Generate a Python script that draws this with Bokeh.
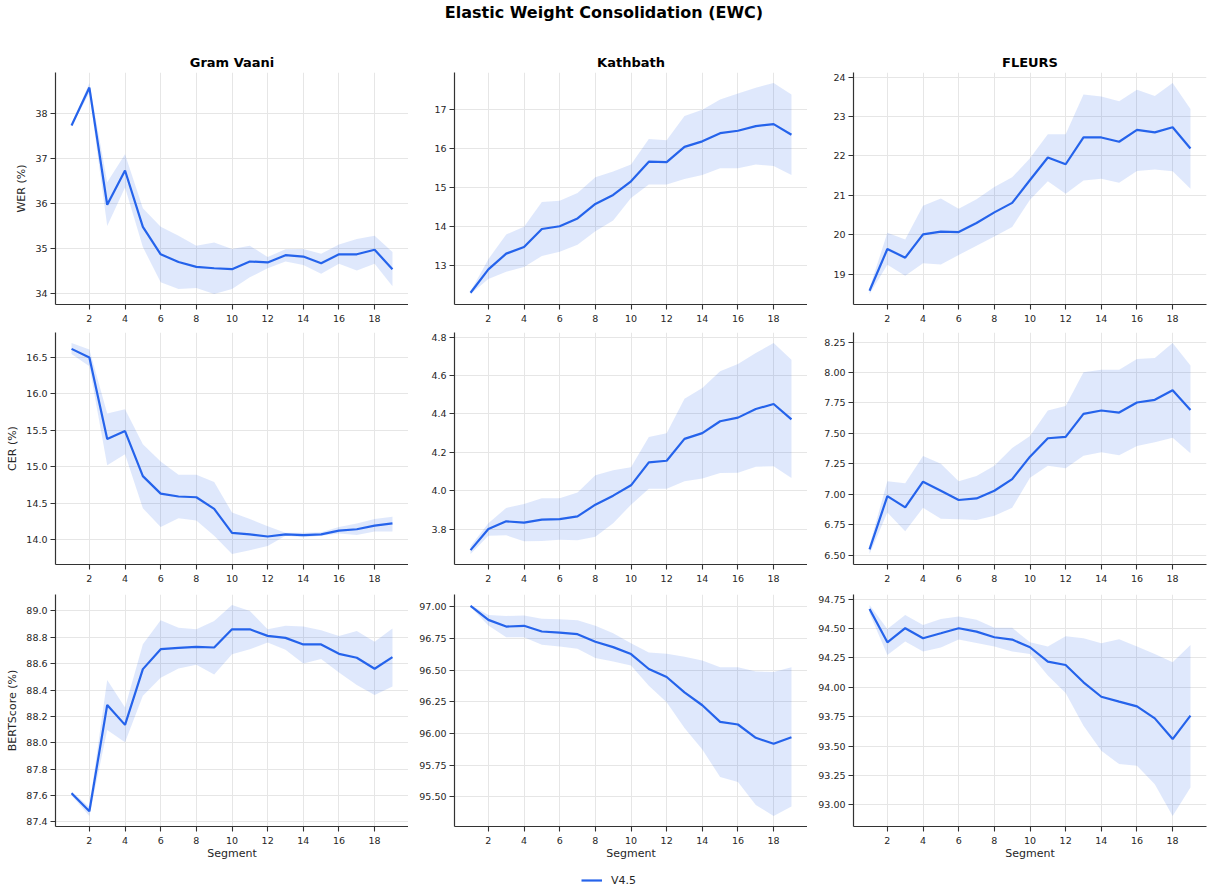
from bokeh.plotting import figure
from bokeh.layouts import column, row
from bokeh.models import FixedTicker, PrintfTickFormatter, Legend, LegendItem, ColumnDataSource
from bokeh.embed import file_html
from bokeh.resources import INLINE

# ---------------- data ----------------
segments = list(range(1, 20))
x_ticks = [2, 4, 6, 8, 10, 12, 14, 16, 18]

datasets = ["Gram Vaani", "Kathbath", "FLEURS"]
metrics = ["WER (%)", "CER (%)", "BERTScore (%)"]
series_name = "V4.5"

# Gram Vaani
gv_wer_mean = [37.74, 38.58, 35.98, 36.74, 35.49, 34.88, 34.71, 34.60, 34.57, 34.55, 34.72, 34.70, 34.86, 34.83, 34.68, 34.88, 34.88, 34.98, 34.55]
gv_wer_hi = [37.76, 38.68, 36.48, 37.10, 35.90, 35.49, 35.29, 35.07, 35.14, 35.00, 35.07, 34.82, 34.99, 35.00, 34.89, 35.10, 35.22, 35.29, 34.93]
gv_wer_lo = [37.72, 38.46, 35.51, 36.36, 35.04, 34.26, 34.11, 34.13, 34.00, 34.11, 34.37, 34.57, 34.72, 34.64, 34.45, 34.67, 34.52, 34.67, 34.17]

gv_cer_mean = [16.62, 16.50, 15.38, 15.49, 14.87, 14.63, 14.59, 14.58, 14.42, 14.09, 14.07, 14.04, 14.07, 14.06, 14.07, 14.12, 14.14, 14.19, 14.22]
gv_cer_hi = [16.70, 16.61, 15.73, 15.79, 15.31, 15.07, 14.89, 14.89, 14.79, 14.37, 14.28, 14.18, 14.09, 14.09, 14.10, 14.17, 14.22, 14.28, 14.31]
gv_cer_lo = [16.55, 16.38, 15.02, 15.17, 14.43, 14.17, 14.29, 14.26, 14.05, 13.80, 13.85, 13.91, 14.05, 14.03, 14.05, 14.08, 14.06, 14.11, 14.11]

gv_bert_mean = [87.617, 87.481, 88.287, 88.136, 88.559, 88.710, 88.720, 88.728, 88.723, 88.861, 88.861, 88.811, 88.796, 88.746, 88.746, 88.675, 88.645, 88.562, 88.650]
gv_bert_hi = [87.630, 87.513, 88.476, 88.267, 88.748, 88.930, 88.872, 88.861, 88.924, 89.045, 89.000, 88.861, 88.887, 88.882, 88.854, 88.811, 88.849, 88.766, 88.867]
gv_bert_lo = [87.600, 87.445, 88.098, 88.005, 88.357, 88.493, 88.564, 88.592, 88.519, 88.672, 88.710, 88.761, 88.705, 88.602, 88.635, 88.534, 88.438, 88.362, 88.428]

# Kathbath
kb_wer_mean = [12.31, 12.91, 13.31, 13.48, 13.94, 14.01, 14.21, 14.58, 14.81, 15.16, 15.66, 15.65, 16.04, 16.18, 16.39, 16.45, 16.57, 16.62, 16.35]
kb_wer_hi = [12.35, 13.17, 13.80, 14.00, 14.63, 14.66, 14.86, 15.26, 15.41, 15.59, 16.24, 16.21, 16.83, 16.99, 17.25, 17.40, 17.55, 17.67, 17.38]
kb_wer_lo = [12.28, 12.66, 12.85, 12.97, 13.25, 13.36, 13.54, 13.88, 14.16, 14.73, 15.08, 15.08, 15.22, 15.32, 15.49, 15.49, 15.59, 15.55, 15.32]

kb_cer_mean = [3.690, 3.800, 3.840, 3.833, 3.849, 3.852, 3.866, 3.927, 3.974, 4.028, 4.148, 4.156, 4.270, 4.300, 4.362, 4.381, 4.426, 4.452, 4.372]
kb_cer_hi = [3.710, 3.830, 3.910, 3.930, 3.960, 3.960, 3.990, 4.080, 4.106, 4.122, 4.280, 4.300, 4.480, 4.536, 4.623, 4.661, 4.718, 4.770, 4.683]
kb_cer_lo = [3.670, 3.765, 3.767, 3.736, 3.737, 3.744, 3.741, 3.760, 3.830, 3.927, 4.010, 4.010, 4.049, 4.063, 4.092, 4.094, 4.125, 4.127, 4.066]

kb_bert_mean = [97.008, 96.898, 96.845, 96.851, 96.806, 96.798, 96.785, 96.725, 96.683, 96.628, 96.510, 96.447, 96.326, 96.224, 96.093, 96.072, 95.967, 95.920, 95.972]
kb_bert_hi = [97.015, 96.937, 96.929, 96.932, 96.906, 96.903, 96.895, 96.851, 96.793, 96.714, 96.641, 96.630, 96.607, 96.578, 96.523, 96.523, 96.491, 96.486, 96.523]
kb_bert_lo = [97.000, 96.853, 96.761, 96.761, 96.701, 96.688, 96.670, 96.596, 96.570, 96.538, 96.378, 96.247, 96.045, 95.875, 95.657, 95.618, 95.437, 95.350, 95.424]

# FLEURS
fl_wer_mean = [18.58, 19.64, 19.42, 20.01, 20.08, 20.07, 20.30, 20.57, 20.81, 21.39, 21.96, 21.79, 22.47, 22.47, 22.36, 22.66, 22.60, 22.73, 22.19]
fl_wer_hi = [18.65, 20.05, 19.88, 20.74, 20.92, 20.66, 20.90, 21.21, 21.46, 21.94, 22.55, 22.55, 23.56, 23.51, 23.39, 23.68, 23.52, 23.85, 23.19]
fl_wer_lo = [18.50, 19.24, 18.96, 19.28, 19.25, 19.49, 19.72, 19.96, 20.20, 20.89, 21.36, 21.04, 21.38, 21.42, 21.32, 21.62, 21.66, 21.61, 21.17]

fl_cer_mean = [6.547, 6.985, 6.892, 7.103, 7.029, 6.953, 6.966, 7.029, 7.125, 7.309, 7.460, 7.471, 7.660, 7.688, 7.671, 7.754, 7.776, 7.855, 7.693]
fl_cer_hi = [6.580, 7.108, 7.090, 7.314, 7.250, 7.108, 7.150, 7.235, 7.380, 7.479, 7.688, 7.726, 8.003, 8.022, 8.022, 8.110, 8.120, 8.242, 8.058]
fl_cer_lo = [6.510, 6.851, 6.697, 6.889, 6.800, 6.796, 6.788, 6.823, 6.889, 7.136, 7.235, 7.213, 7.317, 7.345, 7.320, 7.397, 7.427, 7.465, 7.337]

fl_bert_mean = [94.667, 94.383, 94.503, 94.418, 94.460, 94.503, 94.474, 94.426, 94.406, 94.341, 94.219, 94.190, 94.043, 93.920, 93.878, 93.838, 93.736, 93.560, 93.759]
fl_bert_hi = [94.700, 94.497, 94.616, 94.531, 94.582, 94.602, 94.574, 94.506, 94.506, 94.383, 94.347, 94.435, 94.418, 94.375, 94.409, 94.347, 94.284, 94.213, 94.361]
fl_bert_lo = [94.630, 94.276, 94.389, 94.304, 94.338, 94.406, 94.378, 94.347, 94.304, 94.284, 94.100, 93.952, 93.673, 93.460, 93.347, 93.332, 93.176, 92.906, 93.148]

# y tick labels per panel
gv_wer_ticks = [34, 35, 36, 37, 38]
kb_wer_ticks = [13, 14, 15, 16, 17]
fl_wer_ticks = [19, 20, 21, 22, 23, 24]
gv_cer_ticks = [14.0, 14.5, 15.0, 15.5, 16.0, 16.5]
kb_cer_ticks = [3.8, 4.0, 4.2, 4.4, 4.6, 4.8]
fl_cer_ticks = [6.50, 6.75, 7.00, 7.25, 7.50, 7.75, 8.00, 8.25]
gv_bert_ticks = [87.4, 87.6, 87.8, 88.0, 88.2, 88.4, 88.6, 88.8, 89.0]
kb_bert_ticks = [95.50, 95.75, 96.00, 96.25, 96.50, 96.75, 97.00]
fl_bert_ticks = [93.00, 93.25, 93.50, 93.75, 94.00, 94.25, 94.50, 94.75]

panels = [
    [(gv_wer_mean, gv_wer_lo, gv_wer_hi, gv_wer_ticks, "%d"),
     (kb_wer_mean, kb_wer_lo, kb_wer_hi, kb_wer_ticks, "%d"),
     (fl_wer_mean, fl_wer_lo, fl_wer_hi, fl_wer_ticks, "%d")],
    [(gv_cer_mean, gv_cer_lo, gv_cer_hi, gv_cer_ticks, "%.1f"),
     (kb_cer_mean, kb_cer_lo, kb_cer_hi, kb_cer_ticks, "%.1f"),
     (fl_cer_mean, fl_cer_lo, fl_cer_hi, fl_cer_ticks, "%.2f")],
    [(gv_bert_mean, gv_bert_lo, gv_bert_hi, gv_bert_ticks, "%.1f"),
     (kb_bert_mean, kb_bert_lo, kb_bert_hi, kb_bert_ticks, "%.2f"),
     (fl_bert_mean, fl_bert_lo, fl_bert_hi, fl_bert_ticks, "%.2f")],
]

# ---------------- style ----------------
FONT = "DejaVu Sans"
BLUE = "#2563eb"
AXIS_COLOR = "#333333"
TEXT_COLOR = "#262626"
GRID_COLOR = "#e6e6e6"

FRAME_W = 353
FRAME_H = 232
col_left = [55, 46, 46]
col_right = [0, 0, 1]
row_top = [50, 2, 4]
row_bottom = [26, 26, 38]

rows = []
for ri in range(3):
    figs = []
    for ci in range(3):
        mean, lo, hi, yticks, fmt = panels[ri][ci]
        w = col_left[ci] + FRAME_W + col_right[ci]
        h = row_top[ri] + FRAME_H + row_bottom[ri]
        p = figure(width=w, height=h, output_backend="svg", toolbar_location=None,
                   min_border_left=col_left[ci], min_border_right=col_right[ci],
                   min_border_top=row_top[ri], min_border_bottom=row_bottom[ri],
                   outline_line_color=None, background_fill_color="white",
                   border_fill_color="white")
        src = ColumnDataSource(dict(x=segments, mean=mean, lo=lo, hi=hi))
        p.varea(x="x", y1="lo", y2="hi", source=src, fill_color=BLUE, fill_alpha=0.15)
        p.line(x="x", y="mean", source=src, line_color=BLUE, line_width=2.2)

        p.x_range.range_padding = 0.1
        p.y_range.range_padding = 0.1

        p.xaxis.ticker = FixedTicker(ticks=x_ticks)
        p.yaxis.ticker = FixedTicker(ticks=yticks)
        p.yaxis.formatter = PrintfTickFormatter(format=fmt)

        for ax in (p.xaxis[0], p.yaxis[0]):
            ax.axis_line_color = AXIS_COLOR
            ax.axis_line_width = 1.2
            ax.major_tick_line_color = AXIS_COLOR
            ax.major_tick_line_width = 1.1
            ax.major_tick_out = 5
            ax.major_tick_in = 0
            ax.minor_tick_line_color = None
            ax.major_label_text_font = FONT
            ax.major_label_text_font_size = "9.5px"
            ax.major_label_text_color = TEXT_COLOR
            ax.major_label_standoff = 3
            ax.axis_label_text_font = FONT
            ax.axis_label_text_font_size = "11px"
            ax.axis_label_text_font_style = "normal"
            ax.axis_label_text_color = TEXT_COLOR
            ax.axis_label_standoff = 4
        p.xaxis[0].major_label_standoff = 5
        p.xaxis[0].axis_label_standoff = 0

        p.grid.grid_line_color = GRID_COLOR
        p.grid.grid_line_width = 1

        if ci == 0:
            p.yaxis.axis_label = metrics[ri]
        if ri == 2:
            p.xaxis.axis_label = "Segment"
        if ri == 0:
            p.title.text = datasets[ci]
            p.title.align = "center"
            p.title.text_font = FONT
            p.title.text_font_size = "13px"
            p.title.text_font_style = "bold"
            p.title.text_color = "#000000"
            p.title.standoff = 6
        figs.append(p)
    rows.append(row(*figs))

TOTAL_W = sum(col_left) + 3 * FRAME_W + sum(col_right)

header = figure(width=TOTAL_W, height=22, output_backend="svg", toolbar_location=None,
                x_axis_location=None, y_axis_location=None, min_border=0,
                outline_line_color=None, title="Elastic Weight Consolidation (EWC)")
header.grid.visible = False
header.title.align = "center"
header.title.text_font = FONT
header.title.text_font_size = "16px"
header.title.text_font_style = "bold"
header.title.text_color = "#000000"
header.title.standoff = 0

leg = figure(width=TOTAL_W, height=23, output_backend="svg", toolbar_location=None,
             x_axis_location=None, y_axis_location=None, min_border=0,
             outline_line_color=None)
leg.grid.visible = False
leg_src = ColumnDataSource(dict(x=segments, y=gv_wer_mean))
lr = leg.line(x="x", y="y", source=leg_src, line_color=BLUE, line_width=2.2)
lr.visible = False
legend = Legend(items=[LegendItem(label=series_name, renderers=[lr])],
                location=(581, 0), orientation="horizontal",
                border_line_color=None, background_fill_alpha=0,
                padding=0, margin=0, glyph_width=21, glyph_height=14,
                label_height=14, label_standoff=9, spacing=0,
                label_text_font=FONT, label_text_font_size="11px",
                label_text_color=TEXT_COLOR, click_policy="none")
leg.add_layout(legend)

layout = column(header, *rows, leg)

open("out.html", "w").write(file_html(layout, INLINE))
